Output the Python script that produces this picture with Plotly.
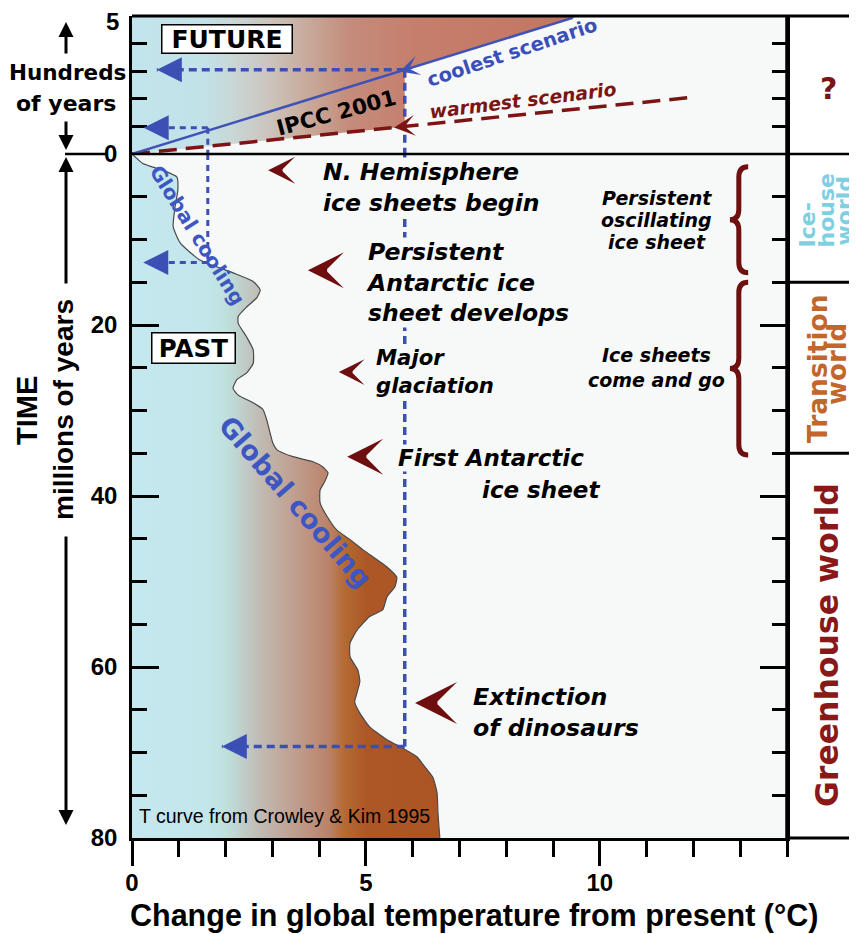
import plotly.graph_objects as go

# ---------------- data ----------------
# Past temperature curve (Crowley & Kim 1995)
past_myr = [0, 1.1, 1.9, 2.7, 4.2, 6.2, 8.5, 10.4, 12.4, 13.9,
            14.9, 15.9, 16.8, 17.9, 19.0, 19.8, 21.4, 22.9, 24.5, 25.6,
            26.4, 27.4, 28.2, 29.1, 29.9, 31.1, 32.6, 33.8, 34.6, 35.4,
            36.0, 36.6, 37.3, 38.3, 39.3, 40.8, 42.4, 44.0, 45.1, 46.3,
            48.3, 49.5, 50.6, 51.8, 53.3, 54.1, 55.7, 57.2, 58.8, 60.4,
            61.7, 63.0, 64.1, 65.4, 67.0, 68.5, 69.5, 70.5, 71.4, 72.9,
            74.7, 77.1, 80.0]
past_temp = [0, 0.23, 0.66, 0.96, 0.98, 0.92, 0.88, 1.03, 1.45, 2.16,
             2.59, 2.74, 2.67, 2.45, 2.27, 2.27, 2.45, 2.59, 2.59, 2.45,
             2.24, 2.16, 2.27, 2.59, 2.80, 2.88, 2.95, 3.01, 3.10, 3.44,
             3.87, 4.08, 4.19, 4.12, 4.02, 4.02, 4.17, 4.38, 4.66, 4.94,
             5.45, 5.66, 5.62, 5.45, 5.36, 5.08, 4.81, 4.66, 4.66, 4.83,
             4.87, 4.81, 4.76, 4.87, 5.08, 5.45, 5.79, 6.09, 6.22, 6.43,
             6.52, 6.54, 6.58]

# Future scenarios (IPCC 2001), hundreds of years
cool_temp = [0.0, 9.42]
cool_hund = [0.0, 4.93]
warm_temp = [0.0, 11.9]
warm_hund = [0.0, 2.04]

# Blue dotted "same temperature" guides
match_temp = [1.62, 5.83]
match_future = [0.95, 3.05]
match_past = [12.7, 69.3]
future_tip_temp = [0.25, 0.53]
past_tip_temp = [0.24, 1.92]

# Events
event_labels = ["N. Hemisphere<br>ice sheets begin",
                "Persistent<br>Antarctic ice<br>sheet develops",
                "Major<br>glaciation",
                "First Antarctic",
                "Extinction<br>of dinosaurs"]
event_tip_temp = [2.91, 3.76, 4.42, 4.60, 6.05]
event_tip_myr = [1.9, 13.6, 25.5, 35.4, 64.2]
event_label_temp = [4.06, 4.98, 5.19, 5.67, 7.27]
event_label_myr = [3.9, 15.0, 25.4, 35.6, 65.3]
event_font_size = [23.5, 23.5, 21.2, 23.0, 23.7]
event_head_scale = [4.5, 6.0, 4.3, 6.0, 7.0]
extra_label = "ice sheet"
extra_label_temp = 7.44
extra_label_myr = 39.3

# Eras / braces
era_boundaries_myr = [15, 35]
brace_spans_myr = [[1.5, 13.9], [15.0, 35.2]]
brace_labels = [["Persistent", "oscillating", "ice sheet"], ["Ice sheets", "come and go"]]
brace_label_myr = [[5.15, 7.72, 10.29], [23.5, 26.4]]
brace_label_temp = 11.22

# Tick labels
x_ticks = [0, 5, 10]
past_ticks = [0, 20, 40, 60, 80]
future_ticks = [0, 1, 2, 3, 4, 5]
future_top_label = "5"

# Colour gradients (temperature -> colour)
past_grad = [(0, '#c4e8ef'), (1.6, '#c2e6ea'), (2.0, '#bfe1de'), (2.7, '#c0bcb6'),
             (3.6, '#bf9a88'), (4.2, '#bb826a'), (4.55, '#b46a32'), (5.0, '#ad5727'),
             (7.0, '#ab5424')]
future_grad = [(0, '#c2e4ec'), (1.5, '#c2e2e8'), (2.1, '#c8d8d8'), (2.95, '#ccc4bc'),
               (3.8, '#c8a898'), (4.65, '#c48c7c'), (6.1, '#c67e6c'), (9.6, '#c27660')]

# ---------------- layout geometry ----------------
OFF = 8                      # page body margin of the browser
W, H = 857 - OFF, 934 - OFF
ML, MR, MT, MB = 132 - OFF, 70, 16 - OFF, 96
PW, PH = W - ML - MR, H - MT - MB
SPLIT = 684 / PH          # bottom panel fraction
BLUE = '#3c4fb5'
DRED = '#6e0e0e'
BOLD = 'DejaVu Sans'
ARIAL = 'Liberation Sans'


def pxx(px):
    """screen x (reference picture) -> paper"""
    return (px - OFF - ML) / PW


def pxy(py):
    """screen y (reference picture) -> paper"""
    return (H - MB - (py - OFF)) / PH


def cscale(stops):
    top = stops[-1][0]
    return [[t / top, c] for t, c in stops], top


fig = go.Figure()

# Future gradient wedge
x_split = match_temp[1]
cs = cool_hund[1] / cool_temp[1]
ws = warm_hund[1] / warm_temp[1]
fcs, ftop = cscale(future_grad)
fig.add_trace(go.Scatter(
    x=[0, x_split, x_split, 5 / cs, 0, 0],
    y=[0, ws * x_split, cs * x_split, 5, 5, 0],
    yaxis='y', mode='lines', line=dict(width=0), fill='toself',
    fillgradient=dict(type='horizontal', colorscale=fcs, start=0, stop=ftop),
    hoverinfo='skip', showlegend=False))

# Past temperature curve
pcs, ptop = cscale(past_grad)
fig.add_trace(go.Scatter(
    x=past_temp, y=past_myr, yaxis='y2', mode='lines',
    line=dict(color='#4a4a4a', width=1.2, shape='spline', smoothing=0.5),
    fill='tozerox',
    fillgradient=dict(type='horizontal', colorscale=pcs, start=0, stop=ptop),
    hoverinfo='skip', showlegend=False))

# Blue dotted guides
for i in range(2):
    mt, mf, mp = match_temp[i], match_future[i], match_past[i]
    dash = '8px,5px' if i == 1 else '6px,5px'
    wd = 3.5 if i == 1 else 3
    segs = [([mt, mt], [mf, 0], 'y'), ([mt, future_tip_temp[i]], [mf, mf], 'y'),
            ([mt, mt], [0, mp], 'y2'), ([mt, past_tip_temp[i]], [mp, mp], 'y2')]
    for xs, ys, ya in segs:
        fig.add_trace(go.Scatter(x=xs, y=ys, yaxis=ya, mode='lines',
                                 line=dict(color=BLUE, width=wd, dash=dash),
                                 hoverinfo='skip', showlegend=False))

# Scenario lines
fig.add_trace(go.Scatter(x=warm_temp, y=warm_hund, yaxis='y', mode='lines',
                         line=dict(color='#7d1414', width=3.5, dash='18px,9px'),
                         hoverinfo='skip', showlegend=False))
fig.add_trace(go.Scatter(x=cool_temp, y=cool_hund, yaxis='y', mode='lines',
                         line=dict(color='#3f52b8', width=2.5),
                         hoverinfo='skip', showlegend=False))

ann = []


def A(**kw):
    d = dict(showarrow=False, xanchor='center', yanchor='middle')
    d.update(kw)
    ann.append(d)


def head(x, y, yref, color, style, s, ax, ay):
    A(x=x, y=y, xref='x', yref=yref, text='', showarrow=True, arrowhead=style,
      arrowwidth=2, arrowsize=s / 2, arrowcolor=color, ax=ax, ay=ay)


# Blue arrow heads
for i in range(2):
    head(future_tip_temp[i], match_future[i], 'y', BLUE, 2, 5, 16, 0)
    head(past_tip_temp[i], match_past[i], 'y2', BLUE, 2, 5, 16, 0)

# arrow heads on scenario lines
ppx = PW / 14
ppy_top = (PH - 684) / 5
ct = 5.72
head(ct, cs * ct, 'y', '#3f52b8', 3, 3.3, 14, -14 * cs * ppy_top / ppx)
wt = 5.6
head(wt, ws * wt, 'y', '#7d1414', 3, 3.5, 14, -14 * ws * ppy_top / ppx)

# Event chevrons + labels
for i in range(len(event_labels)):
    s = event_head_scale[i]
    head(event_tip_temp[i], event_tip_myr[i], 'y2', DRED, 3, s, 3 * s, 0)
    A(x=event_label_temp[i], y=event_label_myr[i], xref='x', yref='y2',
      text='<b><i>%s</i></b>' % event_labels[i], xanchor='left', yanchor='middle',
      align='left', bgcolor='#f7f8f8', borderpad=0,
      font=dict(family=BOLD, size=event_font_size[i], color='black'))
A(x=extra_label_temp, y=extra_label_myr, xref='x', yref='y2',
  text='<b><i>%s</i></b>' % extra_label, xanchor='left', yanchor='middle',
  bgcolor='#f7f8f8', font=dict(family=BOLD, size=23, color='black'))

# Brace labels
for labs, ys in zip(brace_labels, brace_label_myr):
    for lab, yv in zip(labs, ys):
        A(x=brace_label_temp, y=yv, xref='x', yref='y2', text='<b><i>%s</i></b>' % lab,
          font=dict(family=BOLD, size=19, color='black'))

# Boxes
A(x=2.03, y=4.16, xref='x', yref='y', text='<b>FUTURE</b>', bgcolor='white',
  bordercolor='black', borderwidth=1.5, borderpad=1, width=127, height=25,
  font=dict(family=BOLD, size=25, color='black'))
A(x=1.32, y=22.7, xref='x', yref='y2', text='<b>PAST</b>', bgcolor='white',
  bordercolor='black', borderwidth=1.5, borderpad=1, width=80, height=27,
  font=dict(family=BOLD, size=24.5, color='black'))

# Rotated labels
A(x=4.38, y=1.50, xref='x', yref='y', text='<b>IPCC 2001</b>', textangle=-15,
  font=dict(family=BOLD, size=21.5, color='black'))
A(x=8.12, y=3.69, xref='x', yref='y', text='<b>coolest scenario</b>', textangle=-18.6,
  font=dict(family=BOLD, size=19.4, color='#3a4fb8'))
A(x=8.36, y=1.93, xref='x', yref='y', text='<b><i>warmest scenario</i></b>', textangle=-7,
  font=dict(family=BOLD, size=18.8, color='#7d1414'))
A(x=1.39, y=9.5, xref='x', yref='y2', text='<b>Global cooling</b>', textangle=58,
  font=dict(family=BOLD, size=20, color='#3d56c2'))
A(x=3.48, y=40.7, xref='x', yref='y2', text='<b>Global cooling</b>', textangle=49,
  font=dict(family=BOLD, size=27, color='#3d56c2'))
A(x=0.11, y=77.4, xref='x', yref='y2', text='T curve from Crowley &amp; Kim 1995',
  xanchor='left', font=dict(family=ARIAL, size=19.5, color='black'))

# top "5" tick label (sits slightly below its tick in the original)
A(x=pxx(121), y=pxy(22), xref='paper', yref='paper', xanchor='right',
  text='<b>%s</b>' % future_top_label, font=dict(family=ARIAL, size=24, color='black'))

# Left-side labels and arrows
A(x=pxx(67), y=pxy(72), xref='paper', yref='paper', text='<b>Hundreds</b>',
  font=dict(family=BOLD, size=21.5, color='black'))
A(x=pxx(66), y=pxy(103), xref='paper', yref='paper', text='<b>of years</b>',
  font=dict(family=BOLD, size=22, color='black'))
A(x=pxx(27), y=pxy(411), xref='paper', yref='paper', text='<b>TIME</b>', textangle=-90,
  font=dict(family=ARIAL, size=29, color='black'))
A(x=pxx(63), y=pxy(410), xref='paper', yref='paper', text='<b>millions of years</b>',
  textangle=-90, font=dict(family=ARIAL, size=28, color='black'))
for tipy, tail in [(22, 33), (150, -30), (157, 128), (825, -290)]:
    A(x=pxx(66), y=pxy(tipy), xref='paper', yref='paper', text='', showarrow=True,
      arrowhead=2, arrowwidth=3, arrowsize=1, arrowcolor='black', ax=0, ay=tail)

# X title
A(x=pxx(474), y=pxy(915), xref='paper', yref='paper',
  text='<b>Change in global temperature from present (°C)</b>',
  font=dict(family=ARIAL, size=30.5, color='black'))

# Right panel labels
A(x=pxx(828), y=pxy(88), xref='paper', yref='paper', text='<b>?</b>',
  font=dict(family=BOLD, size=30, color='#7b1515'))
for lab, cx, cy in [('Ice-', 807, 225.5), ('house', 826, 210.5), ('world', 844, 210.5)]:
    A(x=pxx(cx), y=pxy(cy), xref='paper', yref='paper', text='<b>%s</b>' % lab,
      textangle=-90, font=dict(family=BOLD, size=22, color='#7fcfe0'))
for lab, cx, cy, fs in [('Transition', 817, 369, 26.5), ('world', 837, 364, 26)]:
    A(x=pxx(cx), y=pxy(cy), xref='paper', yref='paper', text='<b>%s</b>' % lab,
      textangle=-90, font=dict(family=BOLD, size=fs, color='#c2662c'))
A(x=pxx(827), y=pxy(645), xref='paper', yref='paper', text='<b>Greenhouse world</b>',
  textangle=-90, font=dict(family=BOLD, size=31.5, color='#8a1818'))

# ---------------- shapes ----------------
shapes = []
RX = pxx(857)
shapes.append(dict(type='line', xref='paper', yref='paper', x0=0, x1=RX, y0=1, y1=1,
                   line=dict(color='black', width=3)))
shapes.append(dict(type='line', xref='paper', yref='paper', x0=0, x1=RX, y0=SPLIT, y1=SPLIT,
                   line=dict(color='black', width=2.5)))
shapes.append(dict(type='line', xref='paper', yref='paper', x0=1, x1=RX, y0=0, y1=0,
                   line=dict(color='black', width=3)))
shapes.append(dict(type='line', xref='paper', yref='paper', x0=1, x1=1, y0=0, y1=1,
                   line=dict(color='black', width=3.5)))
shapes.append(dict(type='line', xref='paper', yref='paper', x0=pxx(65), x1=pxx(107),
                   y0=SPLIT, y1=SPLIT, line=dict(color='black', width=2.5)))
for b in era_boundaries_myr:
    shapes.append(dict(type='line', xref='paper', yref='y2', x0=1, x1=RX, y0=b, y1=b,
                       line=dict(color='black', width=3)))

# braces
xt, xs_, xe = 12.78, 12.97, 13.17
for t0, t1 in brace_spans_myr:
    tm = (t0 + t1) / 2
    d = 1.2
    path = ('M%f,%f Q%f,%f %f,%f L%f,%f Q%f,%f %f,%f Q%f,%f %f,%f L%f,%f Q%f,%f %f,%f' % (
        xe, t0, xs_, t0, xs_, t0 + d, xs_, tm - d, xs_, tm, xt, tm,
        xs_, tm, xs_, tm + d, xs_, t1 - d, xs_, t1, xe, t1))
    shapes.append(dict(type='path', xref='x', yref='y2', path=path,
                       line=dict(color='#6e1010', width=5)))

fig.update_layout(
    width=W, height=H, autosize=False,
    margin=dict(l=ML, r=MR, t=MT, b=MB, pad=0, autoexpand=False),
    paper_bgcolor='white', plot_bgcolor='#f7f8f8',
    showlegend=False,
    xaxis=dict(range=[0, 14], anchor='y2', showline=True, linecolor='black', linewidth=3,
               ticks='outside', tickvals=x_ticks,
               ticktext=['<b>%d</b>' % v for v in x_ticks], ticklen=25, tickwidth=2.5,
               tickcolor='black', ticklabelstandoff=-4,
               minor=dict(dtick=1, tick0=0, ticks='outside', ticklen=16, tickwidth=2.5,
                          tickcolor='black'),
               tickfont=dict(family=ARIAL, size=24, color='black'),
               showgrid=False, zeroline=False, automargin=False),
    yaxis=dict(domain=[SPLIT, 1], range=[0, 5], anchor='x', showline=True,
               linecolor='black', linewidth=2.5, mirror='ticks', ticks='inside',
               tickvals=future_ticks,
               ticktext=['<b>%d</b>' % v if v == 0 else '' for v in future_ticks],
               ticklen=15, tickwidth=2.5, tickcolor='black', ticklabelstandoff=7,
               ticklabeloverflow='allow',
               tickfont=dict(family=ARIAL, size=24, color='black'),
               showgrid=False, zeroline=False, automargin=False),
    yaxis2=dict(domain=[0, SPLIT], range=[80, 0], anchor='x', showline=True,
                linecolor='black', linewidth=2.5, mirror='ticks', ticks='inside',
                tickvals=past_ticks,
                ticktext=['' if v == 0 else '<b>%d</b>' % v for v in past_ticks],
                ticklen=27, tickwidth=2.5, tickcolor='black', ticklabelstandoff=7,
                ticklabeloverflow='allow',
                minor=dict(dtick=5, tick0=0, ticks='inside', ticklen=15, tickwidth=2.5,
                           tickcolor='black'),
                tickfont=dict(family=ARIAL, size=24, color='black'),
                showgrid=False, zeroline=False, automargin=False),
    annotations=ann, shapes=shapes,
)

fig.write_html('out.html')
